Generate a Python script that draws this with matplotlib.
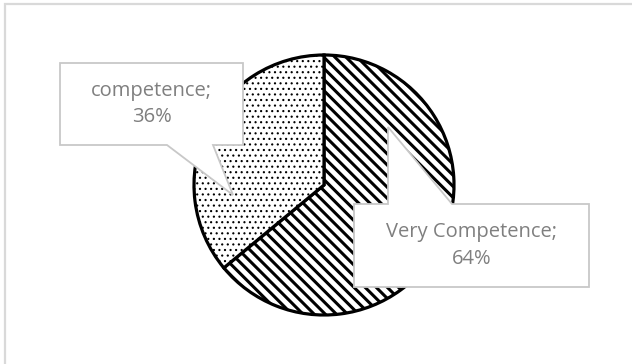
import matplotlib
matplotlib.use("Agg")
import matplotlib.pyplot as plt
from matplotlib.patches import Polygon

# ---------- data ----------
labels = ["Very Competence", "competence"]
shares = [64, 36]
hatches = ["\\\\\\", "..."]
hatch_lw = [2.2, 0.8]

W, H = 632, 364
plt.rcParams["font.family"] = ["Open Sans", "DejaVu Sans"]

fig = plt.figure(figsize=(W / 100, H / 100), dpi=100)
ax = fig.add_axes([0, 0, 1, 1])

def Y(y):  # pixel y (top-down) -> data y
    return H - y

# chart frame (only top / left visible)
ax.plot([5, 5, W + 5], [Y(H + 5), Y(4), Y(4)], color="#d9d9d9", lw=1.6,
        solid_joinstyle="miter")

# ---------- pie ----------
# each wedge drawn on its own so each gets its own hatch width
for i in range(len(shares)):
    plt.rcParams["hatch.linewidth"] = hatch_lw[i]
    w, _ = ax.pie(shares, startangle=90, counterclock=False,
                  center=(324, Y(185)), radius=130, frame=True,
                  colors=["white"] * len(shares),
                  wedgeprops=dict(edgecolor="black", linewidth=2.3))
    for k, ww in enumerate(w):
        if k != i:
            ww.remove()
    w[i].set_hatch(hatches[i])
    if hasattr(w[i], "set_hatch_linewidth"):
        w[i].set_hatch_linewidth(hatch_lw[i])

ax.set_xlim(0, W)
ax.set_ylim(0, H)
ax.set_aspect("equal")
ax.axis("off")

# ---------- callouts ----------
def callout(box, base, tip, text):
    x0, y0, x1, y1 = box
    bx0, bx1, by = base
    if by == y1:  # pointer from bottom edge
        pts = [(x0, y0), (x1, y0), (x1, y1), (bx1, y1), tip, (bx0, y1), (x0, y1)]
    else:         # pointer from top edge
        pts = [(x0, y0), (bx0, y0), tip, (bx1, y0), (x1, y0), (x1, y1), (x0, y1)]
    poly = Polygon([(x, Y(y)) for x, y in pts], closed=True, facecolor="white",
                   edgecolor="#c8c8c8", lw=1.3, zorder=5)
    ax.add_patch(poly)
    ax.text((x0 + x1) / 2, Y((y0 + y1) / 2), text, ha="center", va="center",
            color="#7f7f7f", fontsize=14.5, linespacing=1.4, zorder=6)

callout((60, 63, 243, 145), (167, 213, 145), (233, 195),
        f"{labels[1]};\n{shares[1]}%")
callout((354, 204, 589, 287), (388, 452, 204), (388, 127),
        f"{labels[0]};\n{shares[0]}%")

fig.savefig("out.png", dpi=100)
